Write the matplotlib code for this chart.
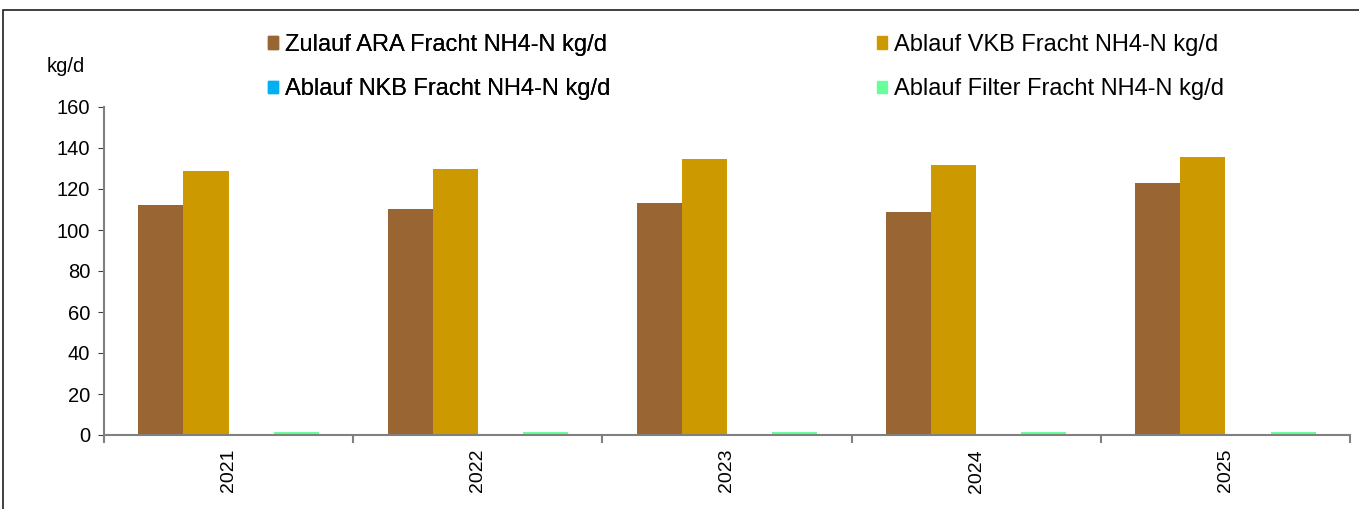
import matplotlib
matplotlib.use("Agg")
import matplotlib.pyplot as plt
import numpy as np
from matplotlib.patches import Rectangle, Patch

plt.rcParams['font.family'] = ['Liberation Sans', 'DejaVu Sans']

years = ["2021", "2022", "2023", "2024", "2025"]
zulauf_ara = [112, 110, 113, 109, 123]
ablauf_vkb = [128.6, 129.8, 134.6, 131.7, 135.6]
ablauf_nkb = [0, 0, 0, 0, 0]
ablauf_filter = [1.5, 1.5, 1.5, 1.5, 1.5]

series = [
    ("Zulauf ARA Fracht NH4-N kg/d", zulauf_ara, "#996633"),
    ("Ablauf VKB Fracht NH4-N kg/d", ablauf_vkb, "#CC9900"),
    ("Ablauf NKB Fracht NH4-N kg/d", ablauf_nkb, "#00B0F0"),
    ("Ablauf Filter Fracht NH4-N kg/d", ablauf_filter, "#66FF99"),
]

fig = plt.figure(figsize=(13.59, 5.09), dpi=100)
ax = fig.add_axes([104/1359, 1-435/509, (1350-104)/1359, (435-107)/509])

x = np.arange(len(years))
w = 0.181
for i, (name, vals, col) in enumerate(series):
    ax.bar(x + (i - 1.5) * w, vals, width=w, color=col, label=name, zorder=2)

ax.set_xlim(-0.5, len(years) - 0.5)
ax.set_ylim(0, 160)
ax.set_yticks(np.arange(0, 161, 20))
ax.tick_params(axis='y', labelsize=14.5, length=4, color='#404040', direction='out', pad=6)
ax.set_xticks(x)
ax.set_xticklabels(years, rotation=90, fontsize=14)
ax.tick_params(axis='x', length=0, pad=10)
ax.set_xticks(np.arange(-0.5, len(years) + 0.5, 1), minor=True)
ax.tick_params(axis='x', which='minor', length=6, color='#808080', width=1.5)
for s in ['top', 'right']:
    ax.spines[s].set_visible(False)
ax.spines['left'].set_color('#808080')
ax.spines['bottom'].set_color('#808080')
ax.spines['left'].set_linewidth(1.5)
ax.spines['bottom'].set_linewidth(1.5)

fig.text(47/1359, 1-66/509, "kg/d", fontsize=14.5, va='center', ha='left')

# legend: two columns placed explicitly
handles = [Patch(color=c, label=n) for n, _, c in series]
common = dict(loc='upper left', fontsize=17, frameon=False, borderpad=0,
              borderaxespad=0, handlelength=0.42, handleheight=0.42,
              handletextpad=0.3, labelspacing=0.95)
leg1 = fig.legend(handles=[handles[0], handles[2]],
                  bbox_to_anchor=(268/1359, 1-34/509), **common)
fig.add_artist(leg1)
leg2 = fig.legend(handles=[handles[1], handles[3]],
                  bbox_to_anchor=(877/1359, 1-34/509), **common)

# outer frame
fig.patches.append(Rectangle((3/1359, -0.01), 1.1, 1 - 10/509 + 0.01,
                             transform=fig.transFigure, fill=False,
                             edgecolor='#202020', linewidth=1.2))

fig.savefig("out.png", dpi=100)
